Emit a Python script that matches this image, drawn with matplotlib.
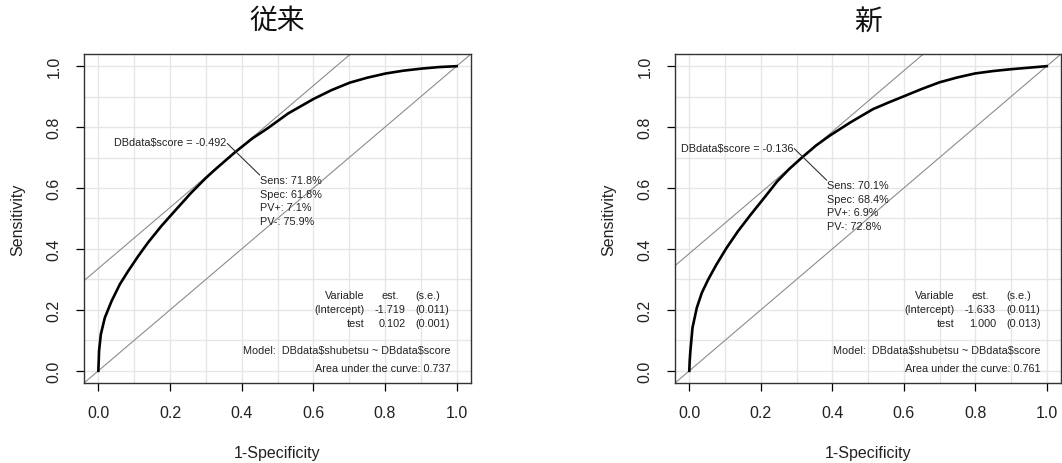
import matplotlib
matplotlib.use("Agg")
import matplotlib.pyplot as plt
import numpy as np

# ---------------- data ----------------
titles = ["従来", "新"]

fpr_old = [0.0, 0.001, 0.002, 0.007, 0.018, 0.037, 0.06, 0.083, 0.111, 0.138, 0.175, 0.212,
           0.258, 0.3, 0.33, 0.382, 0.43, 0.47, 0.53, 0.6, 0.65, 0.702,
           0.75, 0.802, 0.85, 0.902, 0.95, 1.0]
tpr_old = [0.0, 0.03, 0.065, 0.12, 0.174, 0.229, 0.284, 0.327, 0.376, 0.42, 0.474, 0.523,
           0.583, 0.633, 0.665, 0.718, 0.763, 0.794, 0.845, 0.892, 0.921, 0.946,
           0.962, 0.976, 0.985, 0.992, 0.997, 1.0]

fpr_new = [0.0, 0.001, 0.003, 0.009, 0.021, 0.035, 0.053, 0.076, 0.104, 0.136, 0.172, 0.209,
           0.246, 0.28, 0.316, 0.355, 0.393, 0.45, 0.514, 0.56,
           0.6, 0.65, 0.7, 0.75, 0.799, 0.85, 0.9, 0.95, 1.0]
tpr_new = [0.0, 0.03, 0.065, 0.142, 0.207, 0.256, 0.3, 0.349, 0.403, 0.458, 0.513, 0.567,
           0.622, 0.663, 0.701, 0.74, 0.772, 0.815, 0.859, 0.882,
           0.901, 0.925, 0.947, 0.963, 0.976, 0.984, 0.99, 0.995, 1.0]

cutoffs = ["-0.492", "-0.136"]
sens = [0.718, 0.701]
spec = [0.618, 0.684]
pv_pos = [0.071, 0.069]
pv_neg = [0.759, 0.728]

intercept_est = ["-1.719", "-1.633"]
intercept_se = ["(0.011)", "(0.011)"]
test_est = ["0.102", "1.000"]
test_se = ["(0.001)", "(0.013)"]
auc = ["0.737", "0.761"]

curves = [(fpr_old, tpr_old), (fpr_new, tpr_new)]
tick_vals = [0.0, 0.2, 0.4, 0.6, 0.8, 1.0]
tick_labels = ["0.0", "0.2", "0.4", "0.6", "0.8", "1.0"]

# ---------------- plot ----------------
plt.rcParams['font.family'] = ['Liberation Sans', 'DejaVu Sans']
fig = plt.figure(figsize=(10.62, 4.64), dpi=100)
positions = [[0.0791, 0.1724, 0.3644, 0.7091], [0.6356, 0.1724, 0.3635, 0.7091]]

small = 7.8
tc = "#222222"
for i in range(2):
    ax = fig.add_axes(positions[i])
    ax.set_xlim(-0.04, 1.04)
    ax.set_ylim(-0.04, 1.04)
    ax.set_xticks(tick_vals)
    ax.set_xticklabels(tick_labels, fontsize=11.5, color=tc)
    ax.set_yticks(tick_vals)
    ax.set_yticklabels(tick_labels, fontsize=11.5, rotation=90, va="center", color=tc)
    ax.set_xticks(np.arange(0, 1.01, 0.1), minor=True)
    ax.set_yticks(np.arange(0, 1.01, 0.1), minor=True)
    ax.tick_params(which="major", length=6, width=0.9, pad=10)
    ax.tick_params(which="minor", length=0)
    ax.grid(which="both", color="#e6e6e6", lw=1.0)
    ax.set_axisbelow(True)
    for s in ax.spines.values():
        s.set_linewidth(1.0)
        s.set_color("#333333")

    fx, ty = curves[i]
    ax.axline((0, 0), slope=1, color="#8c8c8c", lw=0.8, zorder=2)
    youden = sens[i] + spec[i] - 1
    ax.axline((0, youden), slope=1, color="#8c8c8c", lw=0.8, zorder=2)
    ax.plot(fx, ty, color="black", lw=1.9, zorder=3, solid_joinstyle="round")

    px, py = 1 - spec[i], sens[i]
    ax.text(px - 0.024, py + 0.032, f"DBdata$score = {cutoffs[i]}", ha="right", va="center",
            fontsize=small, color=tc, zorder=4, parse_math=False)
    ax.plot([px - 0.022, px + 0.068], [py + 0.028, py - 0.075], color="#333333", lw=0.8, zorder=4)
    lines = [f"Sens: {sens[i]*100:.1f}%", f"Spec: {spec[i]*100:.1f}%",
             f"PV+: {pv_pos[i]*100:.1f}%", f"PV-: {pv_neg[i]*100:.1f}%"]
    for k, t in enumerate(lines):
        ax.text(px + 0.070, py - 0.091 - 0.045 * k, t, ha="left", va="center",
                fontsize=small, color=tc, zorder=4)

    rows_y = [0.248, 0.203, 0.158]
    col1 = ["Variable", "(Intercept)", "test"]
    col2 = ["est.", intercept_est[i], test_est[i]]
    col3 = ["(s.e.)", intercept_se[i], test_se[i]]
    for k in range(3):
        ax.text(0.743, rows_y[k], col1[k], ha="right", va="center", fontsize=small, color=tc)
        if k == 0:
            ax.text(0.815, rows_y[k], col2[k], ha="center", va="center", fontsize=small, color=tc)
        else:
            ax.text(0.858, rows_y[k], col2[k], ha="right", va="center", fontsize=small, color=tc)
        ax.text(0.886, rows_y[k], col3[k], ha="left", va="center", fontsize=small, color=tc)
    ax.text(0.982, 0.0675, "Model:  DBdata$shubetsu ~ DBdata$score", ha="right", va="center",
            fontsize=small, color=tc, parse_math=False)
    ax.text(0.982, 0.0098, f"Area under the curve: {auc[i]}", ha="right", va="center",
            fontsize=small, color=tc)

    ax.set_xlabel("1-Specificity", fontsize=11.5, color=tc)
    ax.set_ylabel("Sensitivity", fontsize=11.5, color=tc)
    ax.xaxis.label.set_va("center")
    ax.yaxis.label.set_va("center")
    ax.xaxis.set_label_coords(0.5, -0.21)
    ax.yaxis.set_label_coords(-0.171, 0.5)
    ax.text(0.5, 1 + 33.5 / 329, titles[i], transform=ax.transAxes, ha="center", va="center",
            fontsize=20, family=["Noto Sans CJK JP", "DejaVu Sans"], color="#111111")

fig.savefig("out.png", dpi=100)
